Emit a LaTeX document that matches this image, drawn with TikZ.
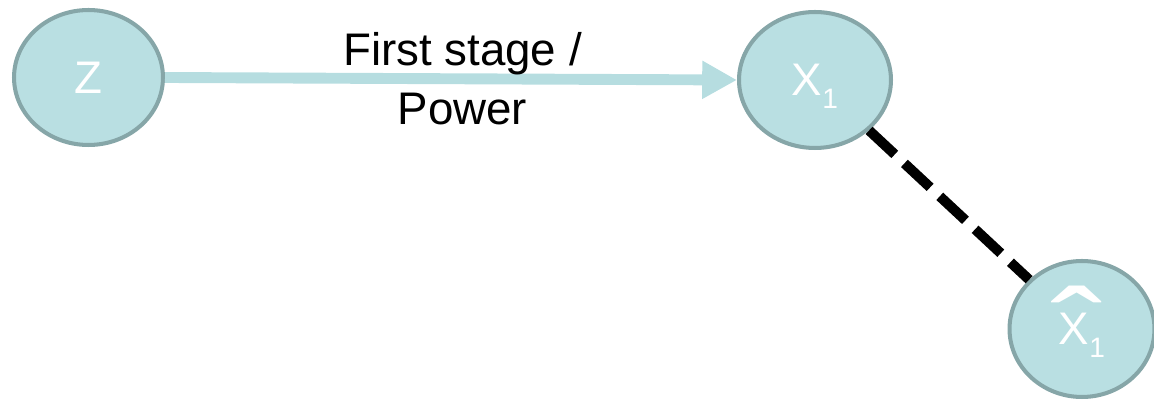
\documentclass[tikz,border=0pt]{standalone}
\usepackage{graphicx}
\usepackage{fontspec}
\setmainfont{Liberation Sans}
\definecolor{nodefill}{RGB}{185, 223, 226}
\definecolor{nodeline}{RGB}{134, 166, 168}
\definecolor{arrowfill}{RGB}{182, 221, 224}
\usetikzlibrary{shapes.geometric, arrows.meta}
% lowered index and a wide hat for the node labels
\newcommand{\lowidx}[1]{\smash{\raisebox{-0.27em}{\fontsize{16}{16}\selectfont #1}}}
\newcommand{\widehatover}[1]{\mbox{\ooalign{#1\cr\hidewidth\smash{\raisebox{-0.60em}{\hspace{0.12em}\scalebox{3.4}[2.6]{ˆ}}}\hidewidth\cr}}}

\begin{document}
\begin{tikzpicture}[
    x=0.02cm, y=-0.02cm,
    font=\fontsize{26}{33.5}\selectfont,
    var/.style={ellipse, draw=nodeline, fill=nodefill, line width=2.3pt, inner sep=0pt, text=white, minimum width=2.98cm, minimum height=2.7cm},
    power/.style={-{Triangle[length=19.8pt, width=20.4pt]}, line width=6.2pt, color=arrowfill},
    link/.style={line width=5.7pt, dash pattern=on 20pt off 7.5pt, color=black}
]
    \useasboundingbox (0,0) rectangle (1154,401);

    \node[var] (Z) at (88.5,77.5) {Z};
    \node[var, minimum width=3.04cm, minimum height=2.72cm] (X1) at (815,80) {X\lowidx{1}};
    \node[var, minimum width=2.9cm, minimum height=2.72cm] (X1hat) at (1082,329) {\widehatover{X}\lowidx{1}};

    \draw[power] (Z.east) -- node[pos=0.52, align=center, text=black] {First stage /\\Power} (X1.west);
    \draw[link] (X1) -- (X1hat);
\end{tikzpicture}
\end{document}
